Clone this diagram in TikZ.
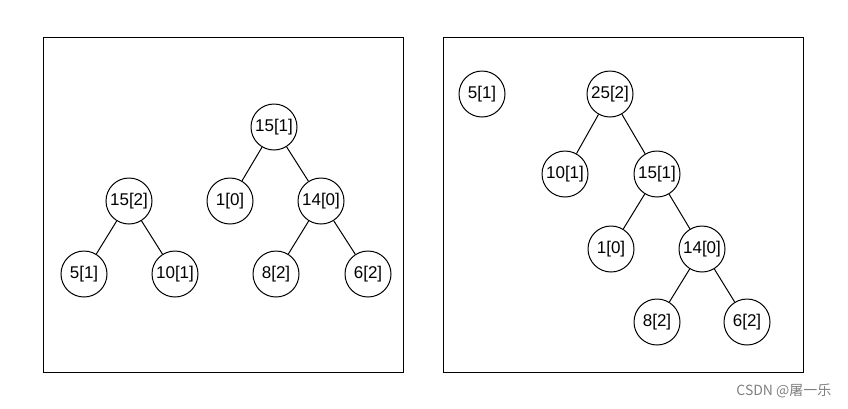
\documentclass[tikz,border=0pt]{standalone}
\usepackage{fontspec}
\setmainfont{Liberation Sans}
\newfontfamily\cjk{Noto Sans CJK SC}

\begin{document}
\begin{tikzpicture}[x=1pt,y=-1pt,
	knoten/.style={draw,circle,line width=1pt,minimum size=46pt,inner sep=0pt,font=\fontsize{17}{20}\selectfont},
	kante/.style={line width=1pt},
	rahmen/.style={line width=1pt}]
	\useasboundingbox (0,0) rectangle (848,408);
	\draw[rahmen] (43,37) rectangle (403,372);
	\draw[rahmen] (443,37) rectangle (803,372);
	\node[knoten] (a1) at (274,127){15[1]};
	\node[knoten] (a2) at (230,201){1[0]};
	\node[knoten] (a3) at (321,201){14[0]};
	\node[knoten] (a4) at (276,274){8[2]};
	\node[knoten] (a5) at (368,274){6[2]};
	\node[knoten] (b1) at (129,201){15[2]};
	\node[knoten] (b2) at (84,274){5[1]};
	\node[knoten] (b3) at (175,274){10[1]};
	\draw[kante] (a1)--(a2);
	\draw[kante] (a1)--(a3);
	\draw[kante] (a3)--(a4);
	\draw[kante] (a3)--(a5);
	\draw[kante] (b1)--(b2);
	\draw[kante] (b1)--(b3);
	\node[knoten] (c1) at (482,94){5[1]};
	\node[knoten] (d1) at (610,94){25[2]};
	\node[knoten] (d2) at (565,174){10[1]};
	\node[knoten] (d3) at (657,174){15[1]};
	\node[knoten] (d4) at (611,249){1[0]};
	\node[knoten] (d5) at (702,249){14[0]};
	\node[knoten] (d6) at (657,322){8[2]};
	\node[knoten] (d7) at (747,322){6[2]};
	\draw[kante] (d1)--(d2);
	\draw[kante] (d1)--(d3);
	\draw[kante] (d3)--(d4);
	\draw[kante] (d3)--(d5);
	\draw[kante] (d5)--(d6);
	\draw[kante] (d5)--(d7);
	\node[text=black!50,font=\cjk\fontsize{14}{16}\selectfont,anchor=east] (wz) at (835,391){CSDN @屠一乐};
\end{tikzpicture}
\end{document}
